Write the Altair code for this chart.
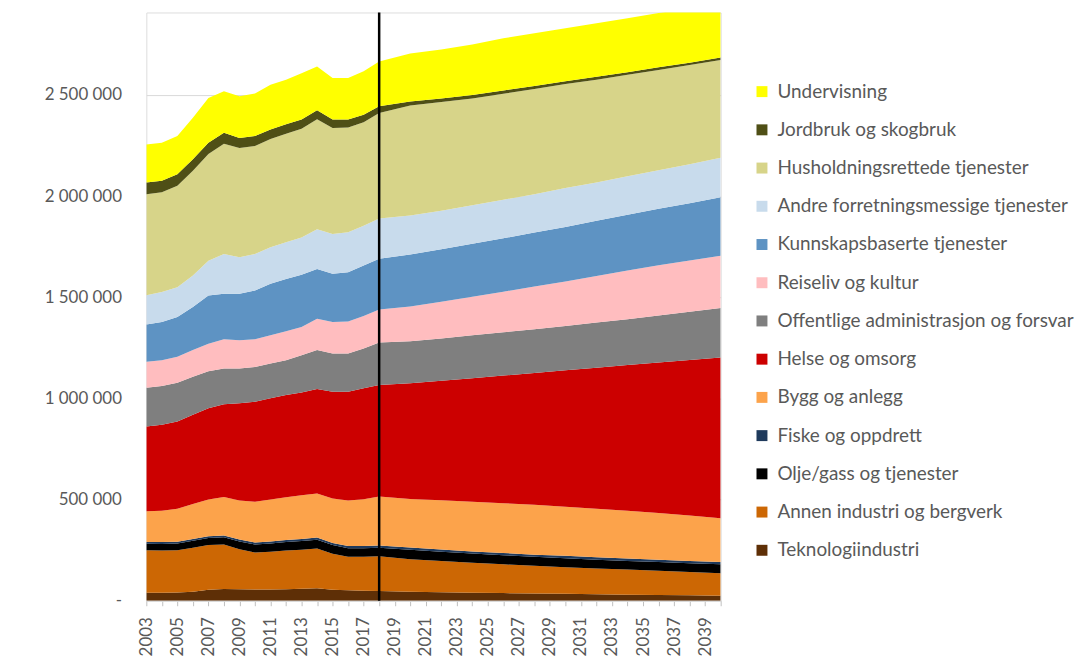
import altair as alt
import pandas as pd

# Employment by industry, historical (to 2018) and projected (to 2040), in thousands
years = list(range(2003, 2019)) + list(range(2020, 2041, 2))

teknologi = [40, 40, 41, 45, 55, 58, 57, 56, 56, 57, 59, 62, 55, 52, 50, 48,
             44, 42, 40, 38, 36, 34, 32, 30, 28, 27, 25]
annen_industri = [210, 208, 209, 217, 220, 220, 198, 182, 186, 191, 193, 196, 177, 166, 168, 172,
                  161, 154, 148, 142, 137, 132, 128, 124, 120, 115, 111]
olje_gass = [32, 33, 33, 34, 35, 36, 38, 40, 41, 42, 43, 44, 43, 42, 42, 42,
             47, 46, 45, 45, 44, 44, 43, 43, 43, 43, 44]
fiske = [9, 9, 9, 9, 9, 9, 10, 10, 10, 10, 10, 11, 11, 11, 11, 11,
         11, 11, 11, 11, 11, 12, 12, 12, 12, 12, 12]
bygg = [152, 155, 163, 173, 181, 190, 192, 202, 207, 212, 217, 217, 219, 224, 231, 242,
        240, 244, 246, 246, 246, 243, 240, 236, 231, 225, 216]
helse = [418, 425, 431, 441, 451, 458, 481, 494, 501, 505, 508, 517, 528, 538, 548, 551,
         572, 590, 610, 631, 652, 674, 697, 720, 744, 768, 795]
offentlige = [192, 191, 192, 188, 184, 177, 172, 172, 172, 172, 184, 192, 189, 189, 197, 210,
              208, 210, 212, 214, 216, 219, 223, 227, 232, 238, 244]
reiseliv = [128, 128, 128, 132, 136, 145, 140, 137, 139, 143, 139, 155, 156, 159, 160, 164,
            172, 181, 191, 201, 211, 220, 230, 240, 248, 254, 258]
kunnskap = [184, 189, 197, 213, 238, 224, 229, 241, 255, 259, 258, 246, 238, 243, 250, 250,
            257, 260, 262, 264, 267, 270, 273, 276, 280, 283, 290]
andre_forretning = [145, 148, 147, 156, 172, 197, 181, 180, 180, 181, 185, 197, 197, 197, 197, 200,
                    193, 190, 190, 190, 190, 192, 190, 190, 190, 193, 195]
husholdning = [499, 493, 501, 518, 528, 545, 540, 534, 535, 536, 537, 543, 524, 518, 511, 521,
               543, 537, 528, 524, 520, 514, 508, 502, 496, 490, 483]
jordbruk = [58, 57, 57, 56, 55, 54, 50, 49, 48, 47, 46, 45, 42, 40, 38, 33,
            20, 18, 17, 16, 15, 14, 14, 13, 13, 12, 12]
undervisning = [189, 188, 189, 205, 221, 205, 206, 210, 221, 220, 229, 216, 205, 205, 214, 222,
                237, 242, 250, 258, 260, 262, 265, 267, 268, 270, 275]

# Stacked bottom to top
series = [
    ("Teknologiindustri", teknologi, "#5E2F06"),
    ("Annen industri og bergverk", annen_industri, "#CC6704"),
    ("Olje/gass og tjenester", olje_gass, "#000000"),
    ("Fiske og oppdrett", fiske, "#1F3A5C"),
    ("Bygg og anlegg", bygg, "#FCA34B"),
    ("Helse og omsorg", helse, "#CC0000"),
    ("Offentlige administrasjon og forsvar", offentlige, "#7F7F7F"),
    ("Reiseliv og kultur", reiseliv, "#FFBDBF"),
    ("Kunnskapsbaserte tjenester", kunnskap, "#5E93C3"),
    ("Andre forretningsmessige tjenester", andre_forretning, "#C8DBEC"),
    ("Husholdningsrettede tjenester", husholdning, "#D7D489"),
    ("Jordbruk og skogbruk", jordbruk, "#4F4F16"),
    ("Undervisning", undervisning, "#FFFF00"),
]

rows = []
for idx, (name, vals, _) in enumerate(series):
    for yr, v in zip(years, vals):
        rows.append({"year": yr, "sektor": name, "sysselsatte": v * 1000, "idx": idx})
df = pd.DataFrame(rows)

legend_order = [s[0] for s in reversed(series)]
legend_colors = [s[2] for s in reversed(series)]

FONT = "Lato"
GREY = "#595959"

x_scale = alt.Scale(domain=[2003, 2040], nice=False, zero=False)

# One tick per year, a label on every odd year
x_axis = alt.Axis(
    title=None,
    values=list(range(2003, 2041)),
    format="d",
    labelExpr="datum.value % 2 == 1 && datum.value < 2040 ? datum.label : ''",
    labelAngle=270,
    labelFontSize=17,
    labelColor=GREY,
    labelFont=FONT,
    labelPadding=11,
    labelOverlap=False,
    labelBound=False,
    labelSeparation=0,
    tickSize=5,
    tickColor="#BFBFBF",
    domainColor="#D9D9D9",
    grid=False,
)

areas = alt.Chart(df).mark_area(clip=True, interpolate="linear").encode(
    x=alt.X("year:Q", scale=x_scale, axis=x_axis),
    y=alt.Y(
        "sysselsatte:Q",
        stack="zero",
        scale=alt.Scale(domain=[0, 2908000], nice=False),
        axis=alt.Axis(
            title=None,
            values=[0, 500000, 1000000, 1500000, 2000000, 2500000],
            labelExpr="datum.value == 0 ? '-\u00a0\u00a0\u00a0' : replace(format(datum.value, ','), regexp(',', 'g'), ' ')",
            labelFontSize=17,
            labelColor=GREY,
            labelFont=FONT,
            labelPadding=25,
            ticks=False,
            domain=False,
            grid=True,
            gridColor="#D9D9D9",
            minExtent=142,
        ),
    ),
    color=alt.Color(
        "sektor:N",
        scale=alt.Scale(domain=legend_order, range=legend_colors),
        legend=alt.Legend(
            title=None,
            orient="none",
            legendX=609,
            legendY=70,
            symbolType="square",
            symbolSize=121,
            symbolStrokeWidth=0,
            labelFontSize=19,
            labelFont=FONT,
            labelColor=GREY,
            labelOffset=6,
            rowPadding=18.4,
            padding=0,
            labelLimit=400,
        ),
    ),
    order=alt.Order("idx:Q", sort="ascending"),
)

# Marker separating history from projection
split = alt.Chart(pd.DataFrame({"year": [2018]})).mark_rule(
    color="#000000", strokeWidth=2.5
).encode(x=alt.X("year:Q", scale=x_scale, axis=x_axis))

chart = alt.layer(areas, split).properties(
    width=577,
    height=591,
    padding={"left": 5, "top": 9, "right": 5, "bottom": 5},
).configure_view(stroke=None).configure(font=FONT, background="white")

chart.save("out.html", embed_options={"renderer": "svg", "actions": False})
